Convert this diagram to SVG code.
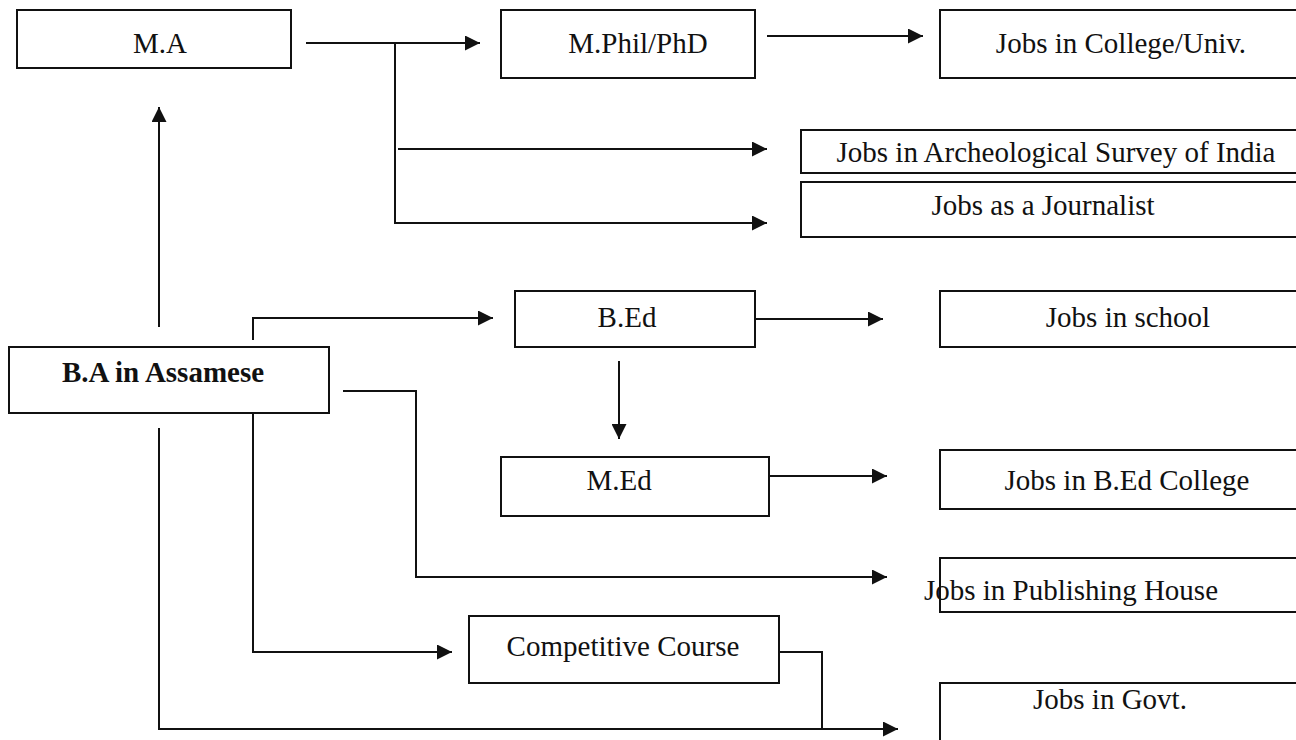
<svg xmlns="http://www.w3.org/2000/svg" width="1296" height="740" viewBox="0 0 1296 740">
<style>
.box{fill:#fff;stroke:#111;stroke-width:2}
.t{font-family:"Liberation Serif","Times New Roman",serif;font-size:29px;fill:#111;text-anchor:middle}
.b{font-weight:bold}
.c{fill:none;stroke:#111;stroke-width:2}
</style>
<defs>
<marker id="ah" viewBox="0 0 15 15" refX="15" refY="7.5" markerWidth="15" markerHeight="15" markerUnits="userSpaceOnUse" orient="auto">
<path d="M0,0 L15,7.5 L0,15 z" fill="#111"/>
</marker>
</defs>
<g id="connectors">
<path class="c" d="M306,43 H480" marker-end="url(#ah)"/>
<path class="c" d="M395,43 V223 H767" marker-end="url(#ah)"/>
<path class="c" d="M398,149 H767" marker-end="url(#ah)"/>
<path class="c" d="M767,36 H923" marker-end="url(#ah)"/>
<path class="c" d="M159,327 V107" marker-end="url(#ah)"/>
<path class="c" d="M253,340 V318 H493" marker-end="url(#ah)"/>
<path class="c" d="M755,319 H883" marker-end="url(#ah)"/>
<path class="c" d="M619,361 V439" marker-end="url(#ah)"/>
<path class="c" d="M769,476 H887" marker-end="url(#ah)"/>
<path class="c" d="M343,391 H416 V577 H887" marker-end="url(#ah)"/>
<path class="c" d="M253,413 V652 H452" marker-end="url(#ah)"/>
<path class="c" d="M159,428 V729 H898" marker-end="url(#ah)"/>
<path class="c" d="M779,652 H822 V729"/>
</g>
<g id="ma"><rect class="box" x="17" y="10" width="274" height="58"/><text class="t" x="160" y="53">M.A</text></g>
<g id="mphil"><rect class="box" x="501" y="10" width="254" height="68"/><text class="t" x="638" y="53">M.Phil/PhD</text></g>
<g id="college"><rect class="box" x="940" y="10" width="370" height="68"/><text class="t" x="1121" y="53">Jobs in College/Univ.</text></g>
<g id="asi"><rect class="box" x="801" y="130" width="509" height="43"/><text class="t" x="1056" y="162">Jobs in Archeological Survey of India</text></g>
<g id="journalist"><rect class="box" x="801" y="182" width="509" height="55"/><text class="t" x="1043" y="215">Jobs as a Journalist</text></g>
<g id="ba"><rect class="box" x="9" y="347" width="320" height="66"/><text class="t b" x="163" y="382">B.A in Assamese</text></g>
<g id="bed"><rect class="box" x="515" y="291" width="240" height="56"/><text class="t" x="627" y="327">B.Ed</text></g>
<g id="school"><rect class="box" x="940" y="291" width="370" height="56"/><text class="t" x="1128" y="327">Jobs in school</text></g>
<g id="med"><rect class="box" x="501" y="457" width="268" height="59"/><text class="t" x="619" y="490">M.Ed</text></g>
<g id="bedcollege"><rect class="box" x="940" y="450" width="370" height="59"/><text class="t" x="1127" y="490">Jobs in B.Ed College</text></g>
<g id="publishing"><rect class="box" x="940" y="558" width="370" height="54"/><text class="t" x="1071" y="600">Jobs in Publishing House</text></g>
<g id="competitive"><rect class="box" x="469" y="616" width="310" height="67"/><text class="t" x="623" y="656">Competitive Course</text></g>
<g id="govt"><rect class="box" x="940" y="683" width="370" height="80"/><text class="t" x="1110" y="709">Jobs in Govt.</text></g>
</svg>
